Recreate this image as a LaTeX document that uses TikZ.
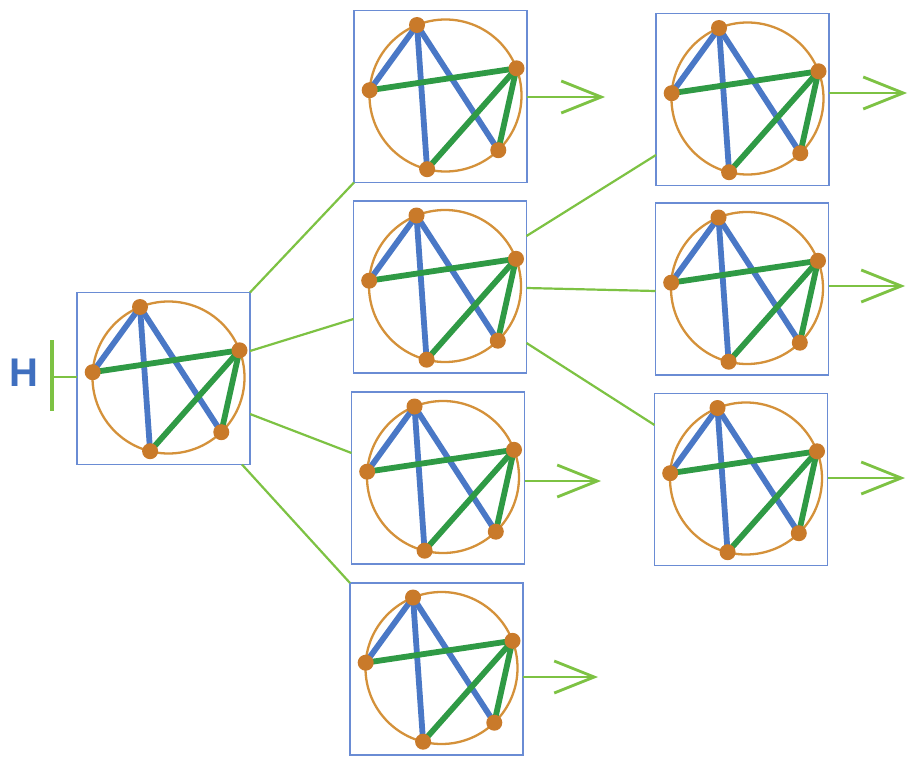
\documentclass[tikz,border=0pt]{standalone}
\usepackage{fontspec}
\newfontfamily\hfont{Liberation Sans}
\usetikzlibrary{arrows.meta}
\definecolor{boxblue}{HTML}{6A8CD4}
\definecolor{edgeblue}{HTML}{4A78C6}
\definecolor{edgegreen}{HTML}{2F9A45}
\definecolor{ringorange}{HTML}{D4913A}
\definecolor{dotbrown}{HTML}{C97A2A}
\definecolor{linkgreen}{HTML}{7DC243}
\definecolor{hblue}{HTML}{3F6FBF}
\tikzset{
  frame/.style={draw=boxblue, line width=1.3pt, fill=white, minimum width=173pt, minimum height=172pt, inner sep=0pt, outer sep=0pt},
  ring/.style={draw=ringorange, line width=2.3pt},
  bedge/.style={draw=edgeblue, line width=5.8pt},
  gedge/.style={draw=edgegreen, line width=5.8pt},
  vdot/.style={circle, fill=dotbrown, minimum size=16pt, inner sep=0pt},
  link/.style={draw=linkgreen, line width=2.2pt},
  outarrow/.style={draw=linkgreen, line width=2.8pt, -{Straight Barb[length=40pt, width=32pt]}},
  hbar/.style={draw=linkgreen, line width=3.2pt},
}
\newcommand\netgraph[1]{%
  \begin{scope}[shift={(#1.center)}, shift={(5,-1)}]
    \coordinate (#1-t)  at (-28.5,-70.5);
    \coordinate (#1-l)  at (-75.8,-5.3);
    \coordinate (#1-r)  at (71.0,-27.2);
    \coordinate (#1-br) at (52.8,54.7);
    \coordinate (#1-b)  at (-18.4,73.7);
    \draw[ring] (0,0) circle[radius=76];
    \draw[bedge] (#1-t) -- (#1-l);
    \draw[bedge] (#1-t) -- (#1-b);
    \draw[bedge] (#1-t) -- (#1-br);
    \draw[gedge] (#1-l) -- (#1-r);
    \draw[gedge] (#1-r) -- (#1-b);
    \draw[gedge] (#1-r) -- (#1-br);
    \foreach \v in {t,l,r,br,b} \node[vdot] (#1-\v-dot) at (#1-\v) {};
  \end{scope}}
\begin{document}
\begin{tikzpicture}[x=1pt, y=-1pt]
\useasboundingbox[fill=white] (0,0) rectangle (908,760);
% boxes
\node[frame] (A)  at (163.5,378.5) {};
\node[frame] (B1) at (440.5,96.5) {};
\node[frame] (B2) at (440,287) {};
\node[frame] (B3) at (438,478) {};
\node[frame] (B4) at (436.5,669) {};
\node[frame] (C1) at (742.5,99.5) {};
\node[frame] (C2) at (742,289) {};
\node[frame] (C3) at (741,479.5) {};
\foreach \n in {A,B1,B2,B3,B4,C1,C2,C3} {\netgraph{\n}}
% connectors
\draw[link] (A.north east) -- (B1.south west);
\draw[link] ([yshift=27.5pt]A.east) -- ([yshift=-32pt]B2.west);
\draw[link] ([yshift=-35.5pt]A.east) -- ([yshift=25pt]B3.west);
\draw[link] ([xshift=-8pt]A.south east) -- (B4.north west);
\draw[link] ([yshift=51pt]B2.east) -- ([yshift=-55.5pt]C1.west);
\draw[link] ([yshift=-1pt]B2.east) -- ([yshift=-2pt]C2.west);
\draw[link] ([yshift=-56pt]B2.east) -- ([yshift=54.5pt]C3.west);
% output arrows
\coordinate (tB1) at (605,97);
\coordinate (tB3) at (601,481);
\coordinate (tB4) at (598,677);
\coordinate (tC1) at (907,93);
\coordinate (tC2) at (905,286);
\coordinate (tC3) at (905,478);
\foreach \n in {B1,B3,B4,C1,C2,C3} {\draw[outarrow] (\n.east |- t\n) -- (t\n);}
% H input
\node[text=hblue, font=\hfont\bfseries\fontsize{40}{40}\selectfont, inner sep=0pt] (H) at (24,373) {H};
\coordinate (Htop) at (52,340);
\coordinate (Hbot) at (52,411);
\coordinate (Hmid) at (52,377);
\draw[hbar] (Htop) -- (Hbot);
\draw[link] (Hmid) -- (A.west |- Hmid);
\end{tikzpicture}
\end{document}
